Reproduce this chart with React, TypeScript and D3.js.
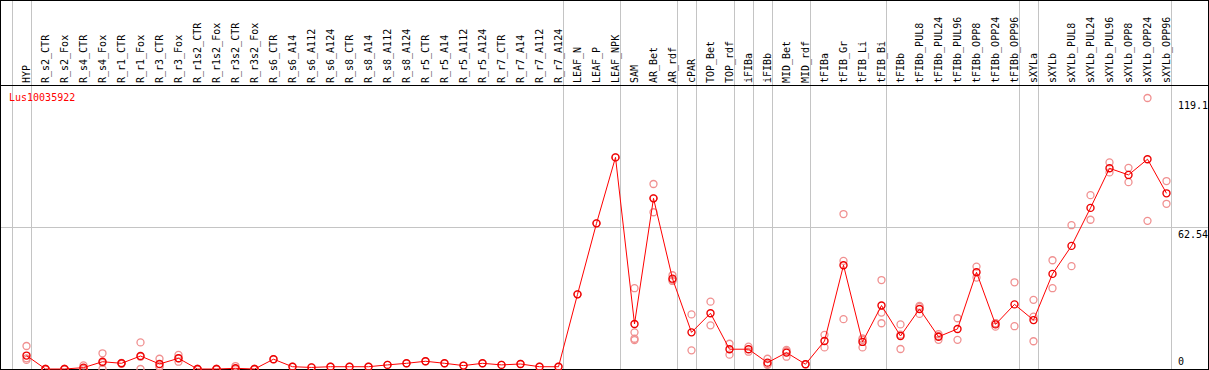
import React from "react";
import * as d3 from "d3";

const geneName = "Lus10035922";

const categories = [
  "HYP",
  "R_s2_CTR", "R_s2_Fox", "R_s4_CTR", "R_s4_Fox", "R_r1_CTR", "R_r1_Fox", "R_r3_CTR", "R_r3_Fox",
  "R_r1s2_CTR", "R_r1s2_Fox", "R_r3s2_CTR", "R_r3s2_Fox",
  "R_s6_CTR", "R_s6_A14", "R_s6_A112", "R_s6_A124",
  "R_s8_CTR", "R_s8_A14", "R_s8_A112", "R_s8_A124",
  "R_r5_CTR", "R_r5_A14", "R_r5_A112", "R_r5_A124",
  "R_r7_CTR", "R_r7_A14", "R_r7_A112", "R_r7_A124",
  "LEAF_N", "LEAF_P", "LEAF_NPK",
  "SAM", "AR_Bet", "AR_rdf",
  "cPAR",
  "TOP_Bet", "TOP_rdf",
  "iFIBa",
  "iFIBb",
  "MID_Bet", "MID_rdf",
  "tFIBa", "tFIB_Gr", "tFIB_Li", "tFIB_Bi",
  "tFIBb", "tFIBb_PUL8", "tFIBb_PUL24", "tFIBb_PUL96", "tFIBb_OPP8", "tFIBb_OPP24", "tFIBb_OPP96",
  "sXYLa",
  "sXYLb", "sXYLb_PUL8", "sXYLb_PUL24", "sXYLb_PUL96", "sXYLb_OPP8", "sXYLb_OPP24", "sXYLb_OPP96",
];

// sizes of the column groups separated by grey lines
const groupSizes = [1, 28, 3, 3, 1, 2, 1, 1, 2, 4, 7, 1, 7];

const means = [
  5.9,
  0, 0, 0.6, 3.2, 2.5, 5.7, 2.2, 4.7,
  0, 0, 0.3, 0,
  4.3, 1.0, 0.7, 1.0,
  1.0, 1.0, 1.8, 2.5,
  3.4, 2.5, 1.5, 2.5,
  1.8, 2.2, 1.0, 1.0,
  32.8, 64.0, 93.0,
  19.8, 75.0, 39.7,
  16.1,
  24.5, 8.7,
  8.7,
  2.8,
  7.2, 2.1,
  12.3, 45.6, 11.9, 27.9,
  14.5, 26.4, 14.2, 17.6, 42.5, 19.6, 28.4,
  21.5,
  41.8, 54.1, 70.8, 88.2, 85.3, 92.2, 77.2,
];

const replicates: number[][] = [
  [10.1, 4.7, 4.0],
  [0, 0, 0], [0, 0, 0], [1.6, 0, 0.3], [6.9, 0, 2.7], [2.5, 2.3, 2.7], [11.7, 0, 5.4], [4.5, 1.2, 0.9], [6.2, 3.2, 4.7],
  [0, 0, 0], [0, 0, 0], [1.3, 0, 0], [0, 0, 0],
  [4.3], [1.0], [0.7], [1.0],
  [1.0], [1.0], [1.8], [2.5],
  [3.4], [2.5], [1.5], [2.5],
  [1.8], [2.2], [1.0], [1.0],
  [32.8], [64.0], [93.0],
  [35.5, 16.1, 13.3, 12.7], [81.3, 68.9, 75.0], [41.2, 39.2, 38.7],
  [24.0, 8.2],
  [29.6, 19.2], [11.1, 6.3],
  [9.8, 7.6],
  [4.5, 1.8, 2.1],
  [8.4, 5.4, 7.8], [2.1],
  [15.0, 9.5], [68.1, 47.5, 21.9], [12.8, 9.5, 13.4], [39.1, 24.8, 20.1],
  [19.6, 8.8, 15.1], [27.7, 24.2, 27.3], [15.3, 12.8, 14.5], [22.3, 12.8], [45.0, 40.2], [20.1, 18.6, 20.1], [38.1, 18.8],
  [30.4, 12.2, 23.0],
  [47.8, 35.5], [63.2, 45.2], [76.4, 65.6], [90.8, 86.4], [88.4, 82.1], [119.1, 65.1], [82.6, 72.6],
];

const yTicks = [0, 62.54, 119.1];
const yGridTicks = [62.54];

const FONT = "'DejaVu Sans Mono', monospace";

export default function App() {
  const W = 1209;
  const H = 370;
  const bottom = 369;
  const headerLine = 85;

  const x = d3.scaleBand<string>().domain(categories).range([17, 17 + 19 * categories.length]).padding(0);
  const cx = (c: string) => (x(c) as number) + x.bandwidth() / 2;
  const y = d3.scaleLinear().domain([0, 119.1]).range([bottom, 98]);

  // separator positions: before first column, and after the last column of each group
  const sepIdx: number[] = [-1];
  let acc = 0;
  for (const g of groupSizes) {
    acc += g;
    sepIdx.push(acc - 1);
  }
  const step = x.step();
  const sepX = sepIdx.map((i) => Math.round(cx(categories[0]) + step * i + 4) + 0.5);

  const line = d3
    .line<number>()
    .x((_, i) => cx(categories[i]))
    .y((d) => y(d));

  return (
    <div style={{ position: "absolute", left: 0, top: 0 }}>
      <svg width={W} height={H} style={{ display: "block" }}>
        <rect x={0} y={0} width={W} height={H} fill="#ffffff" />
        {/* vertical separators */}
        {sepX.map((sx, i) => (
          <line key={"s" + i} x1={sx} x2={sx} y1={0} y2={bottom} stroke="#c4c4c4" strokeWidth={1} />
        ))}
        {/* horizontal grid */}
        {yGridTicks.map((t) => (
          <line key={"g" + t} x1={0} x2={1208} y1={Math.round(y(t)) + 0.5} y2={Math.round(y(t)) + 0.5} stroke="#c4c4c4" strokeWidth={1} />
        ))}
        {/* frame */}
        <line x1={0} x2={W} y1={0.5} y2={0.5} stroke="#000" strokeWidth={1} />
        <line x1={0} x2={W} y1={headerLine + 0.5} y2={headerLine + 0.5} stroke="#000" strokeWidth={1} />
        <line x1={0.5} x2={0.5} y1={0} y2={H} stroke="#000" strokeWidth={1} />
        <line x1={1208.5} x2={1208.5} y1={0} y2={H} stroke="#000" strokeWidth={1} />
        <line x1={0} x2={W} y1={bottom + 0.5} y2={bottom + 0.5} stroke="#000" strokeWidth={1} />
        {/* header labels */}
        {categories.map((c) => (
          <text
            key={"l" + c}
            transform={`translate(${cx(c) + 3.5},${headerLine - 2}) rotate(-90)`}
            fontFamily={FONT}
            fontSize={10}
            fill="#000"
          >
            {c}
          </text>
        ))}
        {/* gene name */}
        <text x={9} y={101} fontFamily={FONT} fontSize={10} fill="#ff0000">
          {geneName}
        </text>
        {/* y labels */}
        {yTicks.map((t) => (
          <text key={"y" + t} x={1178} y={Math.min(y(t) + 11, 365)} fontFamily={FONT} fontSize={10} fill="#000">
            {String(t)}
          </text>
        ))}
        {/* replicates */}
        {replicates.map((reps, i) =>
          reps.map((v, j) => (
            <circle
              key={`r${i}-${j}`}
              cx={cx(categories[i])}
              cy={y(v)}
              r={3.5}
              fill="none"
              stroke="#f09090"
              strokeWidth={1.3}
            />
          ))
        )}
        {/* mean line */}
        <path d={line(means) || ""} fill="none" stroke="#ff0000" strokeWidth={1} />
        {means.map((v, i) => (
          <circle key={"m" + i} cx={cx(categories[i])} cy={y(v)} r={3.5} fill="none" stroke="#ee0000" strokeWidth={1.4} />
        ))}
      </svg>
    </div>
  );
}
